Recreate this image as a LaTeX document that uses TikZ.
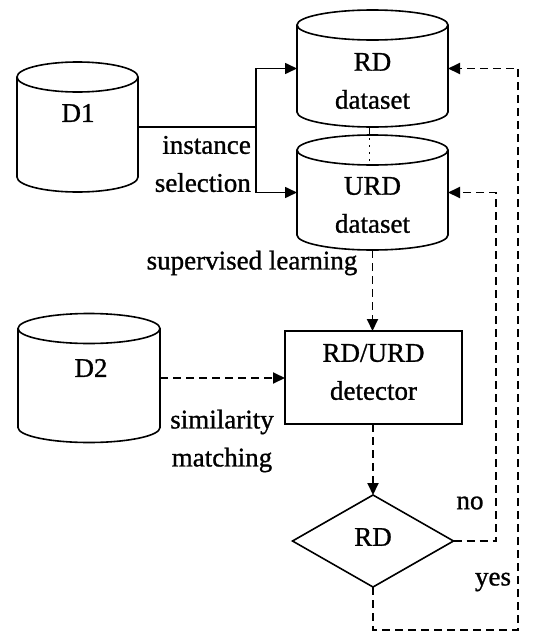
\documentclass[tikz,border=0pt]{standalone}
\usepackage{fontspec}
\setmainfont[FakeBold=1]{Liberation Serif}
\usetikzlibrary{arrows.meta,shapes.geometric,calc}

\tikzset{
  every picture/.style={x=1pt,y=-1pt},
  line/.style={line width=1.6pt},
  dashline/.style={line width=1.9pt,dash pattern=on 8pt off 5pt},
  tip/.style={-{Triangle[length=12pt,width=11pt]}},
  box/.style={draw,line width=1.6pt,rectangle,inner sep=0pt,outer sep=0pt},
  cylbox/.style={rectangle,inner sep=0pt,outer sep=0pt},
  decision/.style={draw,line width=1.6pt,diamond,aspect=1.75,inner sep=0pt,outer sep=0pt},
  txt/.style={align=center,inner sep=0pt,font=\fontsize{27}{38}\selectfont},
}

% outline of a cylinder filling node #1, end caps of x radius #2
\newcommand\drawcylinder[2]{%
  \draw[line] ($(#1.north)+(0,15)$) ellipse [x radius=#2, y radius=15pt];
  \draw[line] ($(#1.north west)+(0,15)$) -- ($(#1.south west)+(0,-15)$)
    arc [start angle=180, end angle=360, x radius=#2, y radius=15pt]
    -- ($(#1.north east)+(0,15)$);
}

\begin{document}
\begin{tikzpicture}
\useasboundingbox (0,0) rectangle (539,632);

% data stores
\node[cylbox,minimum width=121pt,minimum height=130pt] (d1) at (77.5,127) {};
\node[cylbox,minimum width=151pt,minimum height=117pt] (rd) at (372.5,68.5) {};
\node[cylbox,minimum width=151pt,minimum height=115pt] (urd) at (372.5,192.5) {};
\node[cylbox,minimum width=142pt,minimum height=129pt] (d2) at (89,378) {};
\drawcylinder{d1}{60.5pt}
\drawcylinder{rd}{75.5pt}
\drawcylinder{urd}{75.5pt}
\drawcylinder{d2}{71pt}

\node[txt] (d1t) at (78,113) {D1};
\node[txt] (rdt) at (372.5,81) {RD\\dataset};
\node[txt] (urdt) at (372.5,205) {URD\\dataset};
\node[txt] (d2t) at (91,368) {D2};

% detector and decision
\node[box,minimum width=177pt,minimum height=93pt] (det) at (373.5,377.5) {};
\node[txt] (dett) at (373.5,372) {RD/URD\\detector};
\node[decision,minimum width=161pt,minimum height=92pt] (dec) at (373,541) {};
\node[txt] (dect) at (373,537) {RD};

% link between the two datasets
\draw[line width=1pt] ($(rd.south)+(-3.5,0)$) -- ($(urd.north)+(-3.5,0)$);
\draw[line width=0.8pt,dash pattern=on 2pt off 5pt] ($(urd.north)+(-3.5,3)$) -- ($(urd.north)+(-3.5,28)$);

% instance selection
\coordinate (split) at (256,127);
\draw[line] (d1.east) -- (split);
\draw[line,tip] (split) |- (rd.west);
\draw[line,tip] (split) |- (urd.west);
\node[txt,anchor=east,align=right] (sel) at (251,164) {instance\\selection};

% supervised learning
\draw[dashline,tip] (urd.south) -- (urd.south |- det.north);
\node[txt] (sup) at (252,263) {supervised learning};

% similarity matching
\draw[dashline,tip] (d2.east) -- (d2.east -| det.west);
\node[txt] (sim) at (222,441) {similarity\\matching};

% detector output to decision
\draw[dashline,tip] (det.south -| dec.north) -- (dec.north);

% feedback loops
\coordinate (nox) at (496,0);
\coordinate (yesx) at (518,0);
\coordinate (yesy) at (0,630);
\draw[dashline,tip] (dec.east) -- (dec.east -| nox) -- (urd.east -| nox) -- (urd.east);
\draw[dashline,tip] (dec.south) -- (dec.south |- yesy) -- (yesx |- yesy) -- (yesx |- rd.east) -- (rd.east);
\node[txt] (no) at (470,503) {no};
\node[txt] (yes) at (493,582) {yes};
\end{tikzpicture}
\end{document}
